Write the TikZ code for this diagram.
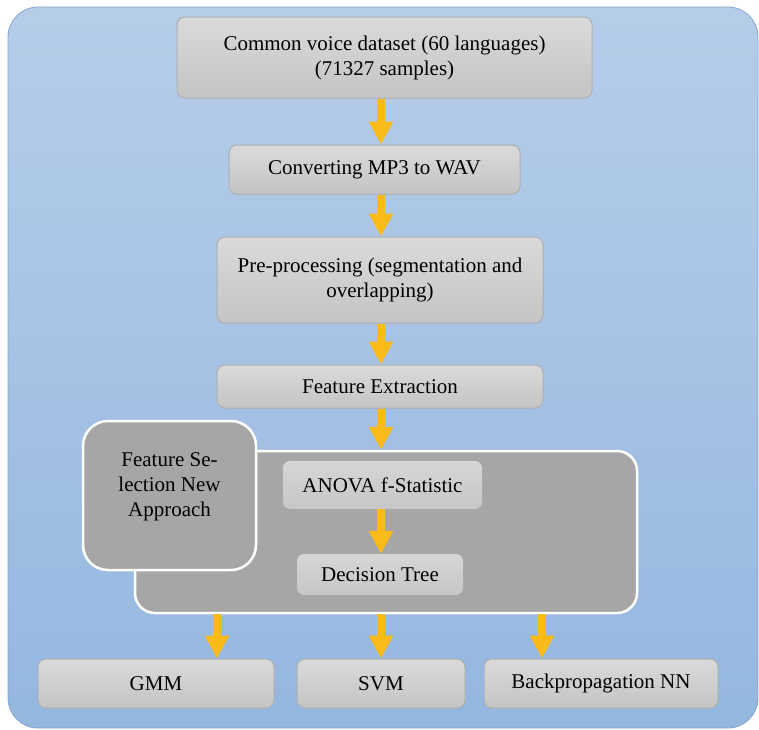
\documentclass[tikz,border=0pt]{standalone}
\usepackage{fontspec}
\setmainfont{Liberation Serif}
\usetikzlibrary{arrows.meta}
\definecolor{arrowc}{RGB}{250,187,25}
\definecolor{bgtop}{RGB}{182,205,233}
\definecolor{bgbot}{RGB}{148,183,224}
\definecolor{bgline}{RGB}{130,165,210}
\definecolor{boxtop}{RGB}{218,218,218}
\definecolor{boxbot}{RGB}{196,196,196}
\definecolor{boxline}{RGB}{175,175,175}
\definecolor{intop}{RGB}{214,214,214}
\definecolor{inbot}{RGB}{198,198,198}
\definecolor{contgray}{RGB}{166,166,166}
\begin{document}
\begin{tikzpicture}[x=1pt,y=-1pt,
  box/.style={rounded corners=8pt, draw=boxline, line width=1pt, top color=boxtop, bottom color=boxbot,
    inner sep=0pt, align=center, font=\fontsize{21}{25}\selectfont},
  inbox/.style={rounded corners=7pt, draw=none, top color=intop, bottom color=inbot,
    inner sep=0pt, align=center, font=\fontsize{21}{25}\selectfont},
  cont/.style={rounded corners=20pt, fill=contgray, draw=white, line width=2.5pt, inner sep=0pt},
  txt/.style={inner sep=0pt, align=center, font=\fontsize{21}{25}\selectfont},
  arr/.style={draw=arrowc, line width=8pt, -{Triangle[width=23pt,length=23pt]}}
]
\useasboundingbox (0,0) rectangle (759,729);
\draw[rounded corners=30pt, top color=bgtop, bottom color=bgbot, draw=bgline, line width=0.8pt]
  (8,7) rectangle (758,728);

\coordinate (colm) at (381,0);
\coordinate (coll) at (217,0);
\coordinate (colr) at (542,0);

\node[box, minimum width=415pt, minimum height=81pt] (cv) at (384.5,57.5)
  {Common voice dataset (60 languages)\\(71327 samples)};
\node[box, minimum width=291pt, minimum height=49pt] (conv) at (374.5,169.5)
  {Converting MP3 to WAV};
\node[box, minimum width=326pt, minimum height=86pt] (pre) at (380,280)
  {Pre-processing (segmentation and\\overlapping)};
\node[box, minimum width=326pt, minimum height=43pt] (fe) at (380,386.5)
  {Feature Extraction};

\node[cont, minimum width=502pt, minimum height=162pt] (ct) at (386,532) {};
\node[cont, rounded corners=25pt, minimum width=173pt, minimum height=149pt] (fs) at (169.5,495.5) {};
\node[txt] (fst) at ([yshift=9pt]fs.center) {Feature Se-\\lection New\\Approach};

\node[inbox, minimum width=199pt, minimum height=48pt] (an) at (382.5,485) {ANOVA f-Statistic};
\node[inbox, minimum width=166pt, minimum height=41pt] (dt) at (380,574.5) {Decision Tree};

\node[box, minimum width=236pt, minimum height=49pt] (gmm) at (156,683.5) {GMM};
\node[box, minimum width=168pt, minimum height=49pt] (svm) at (381,683.5) {SVM};
\node[box, minimum width=234pt, minimum height=49pt] (bp) at (601,683.5) {Backpropagation NN};

\draw[arr] (cv.south -| colm) -- (conv.north -| colm);
\draw[arr] (conv.south -| colm) -- (pre.north -| colm);
\draw[arr] (pre.south -| colm) -- (fe.north -| colm);
\draw[arr] (fe.south -| colm) -- (ct.north -| colm);
\draw[arr] (an.south -| colm) -- (dt.north -| colm);
\draw[arr] (ct.south -| coll) -- (gmm.north -| coll);
\draw[arr] (ct.south -| colm) -- (svm.north -| colm);
\draw[arr] (ct.south -| colr) -- (bp.north -| colr);
\end{tikzpicture}
\end{document}
